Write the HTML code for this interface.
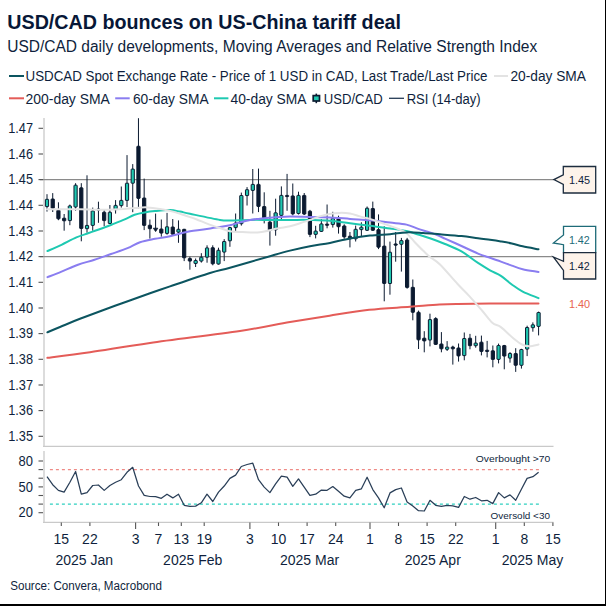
<!DOCTYPE html>
<html><head><meta charset="utf-8"><style>
html,body{margin:0;padding:0;background:#fff;}
body{width:606px;height:606px;overflow:hidden;position:relative;}
svg{position:absolute;left:0;top:0;}
text{font-family:"Liberation Sans",sans-serif;fill:#0f1f3d;}
.ti{font-size:19.5px;font-weight:bold;fill:#071737;}
.st{font-size:15.6px;}
.lg{font-size:14px;}
.ax{font-size:14px;}
.sm{font-size:9.5px;}
.lb{font-size:11.5px;}
.so{font-size:12px;}
</style></head><body>
<svg width="606" height="606" viewBox="0 0 606 606">
<rect x="0" y="0" width="606" height="606" fill="#fff"/>
<line x1="44" y1="118" x2="44" y2="446.5" stroke="#c9c9c9" stroke-width="1.3"/>
<line x1="43" y1="446.4" x2="553.5" y2="446.4" stroke="#c9c9c9" stroke-width="1.3"/>
<line x1="44" y1="451" x2="44" y2="522.5" stroke="#c9c9c9" stroke-width="1.3"/>
<line x1="43" y1="522.4" x2="553.5" y2="522.4" stroke="#c9c9c9" stroke-width="1.3"/>
<line x1="40" y1="179.6" x2="554" y2="179.6" stroke="#8a8a8a" stroke-width="1.2"/>
<line x1="40" y1="256.6" x2="553" y2="256.6" stroke="#8a8a8a" stroke-width="1.2"/>
<line x1="38.5" y1="128.3" x2="43" y2="128.3" stroke="#555" stroke-width="1.1"/>
<text x="8.2" y="133.1" class="ax" textLength="24.8" lengthAdjust="spacingAndGlyphs">1.47</text>
<line x1="38.5" y1="154.0" x2="43" y2="154.0" stroke="#555" stroke-width="1.1"/>
<text x="8.2" y="158.8" class="ax" textLength="24.8" lengthAdjust="spacingAndGlyphs">1.46</text>
<line x1="38.5" y1="179.6" x2="43" y2="179.6" stroke="#555" stroke-width="1.1"/>
<text x="8.2" y="184.4" class="ax" textLength="24.8" lengthAdjust="spacingAndGlyphs">1.45</text>
<line x1="38.5" y1="205.3" x2="43" y2="205.3" stroke="#555" stroke-width="1.1"/>
<text x="8.2" y="210.1" class="ax" textLength="24.8" lengthAdjust="spacingAndGlyphs">1.44</text>
<line x1="38.5" y1="231.0" x2="43" y2="231.0" stroke="#555" stroke-width="1.1"/>
<text x="8.2" y="235.8" class="ax" textLength="24.8" lengthAdjust="spacingAndGlyphs">1.43</text>
<line x1="38.5" y1="256.6" x2="43" y2="256.6" stroke="#555" stroke-width="1.1"/>
<text x="8.2" y="261.4" class="ax" textLength="24.8" lengthAdjust="spacingAndGlyphs">1.42</text>
<line x1="38.5" y1="282.3" x2="43" y2="282.3" stroke="#555" stroke-width="1.1"/>
<text x="8.2" y="287.1" class="ax" textLength="24.8" lengthAdjust="spacingAndGlyphs">1.41</text>
<line x1="38.5" y1="308.0" x2="43" y2="308.0" stroke="#555" stroke-width="1.1"/>
<text x="8.2" y="312.8" class="ax" textLength="24.8" lengthAdjust="spacingAndGlyphs">1.40</text>
<line x1="38.5" y1="333.6" x2="43" y2="333.6" stroke="#555" stroke-width="1.1"/>
<text x="8.2" y="338.4" class="ax" textLength="24.8" lengthAdjust="spacingAndGlyphs">1.39</text>
<line x1="38.5" y1="359.3" x2="43" y2="359.3" stroke="#555" stroke-width="1.1"/>
<text x="8.2" y="364.1" class="ax" textLength="24.8" lengthAdjust="spacingAndGlyphs">1.38</text>
<line x1="38.5" y1="385.0" x2="43" y2="385.0" stroke="#555" stroke-width="1.1"/>
<text x="8.2" y="389.8" class="ax" textLength="24.8" lengthAdjust="spacingAndGlyphs">1.37</text>
<line x1="38.5" y1="410.6" x2="43" y2="410.6" stroke="#555" stroke-width="1.1"/>
<text x="8.2" y="415.4" class="ax" textLength="24.8" lengthAdjust="spacingAndGlyphs">1.36</text>
<line x1="38.5" y1="436.3" x2="43" y2="436.3" stroke="#555" stroke-width="1.1"/>
<text x="8.2" y="441.1" class="ax" textLength="24.8" lengthAdjust="spacingAndGlyphs">1.35</text>
<line x1="38.5" y1="461.0" x2="43" y2="461.0" stroke="#555" stroke-width="1.1"/>
<text x="18.6" y="465.7" class="ax" textLength="14.4" lengthAdjust="spacingAndGlyphs">80</text>
<line x1="38.5" y1="469.6" x2="43" y2="469.6" stroke="#555" stroke-width="1.1"/>
<line x1="38.5" y1="478.2" x2="43" y2="478.2" stroke="#555" stroke-width="1.1"/>
<line x1="38.5" y1="486.9" x2="43" y2="486.9" stroke="#555" stroke-width="1.1"/>
<text x="18.6" y="491.6" class="ax" textLength="14.4" lengthAdjust="spacingAndGlyphs">50</text>
<line x1="38.5" y1="495.5" x2="43" y2="495.5" stroke="#555" stroke-width="1.1"/>
<line x1="38.5" y1="504.1" x2="43" y2="504.1" stroke="#555" stroke-width="1.1"/>
<line x1="38.5" y1="512.7" x2="43" y2="512.7" stroke="#555" stroke-width="1.1"/>
<text x="18.6" y="517.4" class="ax" textLength="14.4" lengthAdjust="spacingAndGlyphs">20</text>
<line x1="61.3" y1="522.5" x2="61.3" y2="526.0" stroke="#555" stroke-width="1.1"/>
<text x="61.3" y="543.6" text-anchor="middle" class="ax">15</text>
<line x1="89.9" y1="522.5" x2="89.9" y2="526.0" stroke="#555" stroke-width="1.1"/>
<text x="89.9" y="543.6" text-anchor="middle" class="ax">22</text>
<line x1="135.6" y1="522.5" x2="135.6" y2="529.0" stroke="#555" stroke-width="1.1"/>
<text x="135.6" y="543.6" text-anchor="middle" class="ax">3</text>
<line x1="158.5" y1="522.5" x2="158.5" y2="526.0" stroke="#555" stroke-width="1.1"/>
<text x="158.5" y="543.6" text-anchor="middle" class="ax">7</text>
<line x1="181.3" y1="522.5" x2="181.3" y2="526.0" stroke="#555" stroke-width="1.1"/>
<text x="181.3" y="543.6" text-anchor="middle" class="ax">13</text>
<line x1="204.2" y1="522.5" x2="204.2" y2="526.0" stroke="#555" stroke-width="1.1"/>
<text x="204.2" y="543.6" text-anchor="middle" class="ax">19</text>
<line x1="249.9" y1="522.5" x2="249.9" y2="529.0" stroke="#555" stroke-width="1.1"/>
<text x="249.9" y="543.6" text-anchor="middle" class="ax">3</text>
<line x1="278.5" y1="522.5" x2="278.5" y2="526.0" stroke="#555" stroke-width="1.1"/>
<text x="278.5" y="543.6" text-anchor="middle" class="ax">10</text>
<line x1="307.1" y1="522.5" x2="307.1" y2="526.0" stroke="#555" stroke-width="1.1"/>
<text x="307.1" y="543.6" text-anchor="middle" class="ax">17</text>
<line x1="335.7" y1="522.5" x2="335.7" y2="526.0" stroke="#555" stroke-width="1.1"/>
<text x="335.7" y="543.6" text-anchor="middle" class="ax">24</text>
<line x1="370.0" y1="522.5" x2="370.0" y2="529.0" stroke="#555" stroke-width="1.1"/>
<text x="370.0" y="543.6" text-anchor="middle" class="ax">1</text>
<line x1="398.5" y1="522.5" x2="398.5" y2="526.0" stroke="#555" stroke-width="1.1"/>
<text x="398.5" y="543.6" text-anchor="middle" class="ax">8</text>
<line x1="427.1" y1="522.5" x2="427.1" y2="526.0" stroke="#555" stroke-width="1.1"/>
<text x="427.1" y="543.6" text-anchor="middle" class="ax">15</text>
<line x1="455.7" y1="522.5" x2="455.7" y2="526.0" stroke="#555" stroke-width="1.1"/>
<text x="455.7" y="543.6" text-anchor="middle" class="ax">22</text>
<line x1="495.7" y1="522.5" x2="495.7" y2="529.0" stroke="#555" stroke-width="1.1"/>
<text x="495.7" y="543.6" text-anchor="middle" class="ax">1</text>
<line x1="524.3" y1="522.5" x2="524.3" y2="526.0" stroke="#555" stroke-width="1.1"/>
<text x="524.3" y="543.6" text-anchor="middle" class="ax">8</text>
<line x1="552.9" y1="522.5" x2="552.9" y2="526.0" stroke="#555" stroke-width="1.1"/>
<text x="552.9" y="543.6" text-anchor="middle" class="ax">15</text>
<text x="84.3" y="564.9" text-anchor="middle" class="ax">2025 Jan</text>
<text x="192.7" y="564.9" text-anchor="middle" class="ax">2025 Feb</text>
<text x="309.6" y="564.9" text-anchor="middle" class="ax">2025 Mar</text>
<text x="432.8" y="564.9" text-anchor="middle" class="ax">2025 Apr</text>
<text x="532.5" y="564.9" text-anchor="middle" class="ax">2025 May</text>
<line x1="47.00" y1="194.2" x2="47.00" y2="211.6" stroke="#0b1a30" stroke-width="1.0"/>
<rect x="45.40" y="199.3" width="3.2" height="7.3" fill="#1fc8b0" stroke="#0b1a30" stroke-width="1" rx="0.4"/>
<line x1="52.72" y1="193.1" x2="52.72" y2="212.0" stroke="#0b1a30" stroke-width="1.0"/>
<rect x="51.12" y="199.0" width="3.2" height="9.3" fill="#0b1a30" stroke="#0b1a30" stroke-width="1" rx="0.4"/>
<line x1="58.43" y1="202.3" x2="58.43" y2="220.2" stroke="#0b1a30" stroke-width="1.0"/>
<rect x="56.83" y="210.3" width="3.2" height="8.5" fill="#0b1a30" stroke="#0b1a30" stroke-width="1" rx="0.4"/>
<line x1="64.15" y1="214.0" x2="64.15" y2="230.7" stroke="#0b1a30" stroke-width="1.0"/>
<rect x="62.55" y="218.2" width="3.2" height="2.6" fill="#0b1a30" stroke="#0b1a30" stroke-width="1" rx="0.4"/>
<line x1="69.86" y1="204.6" x2="69.86" y2="225.2" stroke="#0b1a30" stroke-width="1.0"/>
<rect x="68.26" y="205.9" width="3.2" height="14.7" fill="#1fc8b0" stroke="#0b1a30" stroke-width="1" rx="0.4"/>
<line x1="75.58" y1="183.2" x2="75.58" y2="210.7" stroke="#0b1a30" stroke-width="1.0"/>
<rect x="73.98" y="185.2" width="3.2" height="21.8" fill="#1fc8b0" stroke="#0b1a30" stroke-width="1" rx="0.4"/>
<line x1="81.30" y1="183.2" x2="81.30" y2="241.3" stroke="#0b1a30" stroke-width="1.0"/>
<rect x="79.70" y="187.8" width="3.2" height="40.7" fill="#0b1a30" stroke="#0b1a30" stroke-width="1" rx="0.4"/>
<line x1="87.01" y1="175.3" x2="87.01" y2="232.7" stroke="#0b1a30" stroke-width="1.0"/>
<rect x="85.41" y="225.4" width="3.2" height="3.3" fill="#1fc8b0" stroke="#0b1a30" stroke-width="1" rx="0.4"/>
<line x1="92.73" y1="207.6" x2="92.73" y2="230.7" stroke="#0b1a30" stroke-width="1.0"/>
<rect x="91.13" y="210.9" width="3.2" height="14.5" fill="#1fc8b0" stroke="#0b1a30" stroke-width="1" rx="0.4"/>
<line x1="98.44" y1="201.7" x2="98.44" y2="222.8" stroke="#0b1a30" stroke-width="1.0"/>
<rect x="96.84" y="209.0" width="3.2" height="1.2" fill="#0b1a30" stroke="#0b1a30" stroke-width="1" rx="0.4"/>
<line x1="104.16" y1="209.3" x2="104.16" y2="226.1" stroke="#0b1a30" stroke-width="1.0"/>
<rect x="102.56" y="212.2" width="3.2" height="8.4" fill="#0b1a30" stroke="#0b1a30" stroke-width="1" rx="0.4"/>
<line x1="109.88" y1="205.0" x2="109.88" y2="223.5" stroke="#0b1a30" stroke-width="1.0"/>
<rect x="108.28" y="212.2" width="3.2" height="11.3" fill="#1fc8b0" stroke="#0b1a30" stroke-width="1" rx="0.4"/>
<line x1="115.59" y1="200.1" x2="115.59" y2="213.6" stroke="#0b1a30" stroke-width="1.0"/>
<rect x="113.99" y="205.4" width="3.2" height="4.2" fill="#1fc8b0" stroke="#0b1a30" stroke-width="1" rx="0.4"/>
<line x1="121.31" y1="186.5" x2="121.31" y2="207.6" stroke="#0b1a30" stroke-width="1.0"/>
<rect x="119.71" y="200.4" width="3.2" height="5.2" fill="#1fc8b0" stroke="#0b1a30" stroke-width="1" rx="0.4"/>
<line x1="127.02" y1="155.1" x2="127.02" y2="207.0" stroke="#0b1a30" stroke-width="1.0"/>
<rect x="125.42" y="183.2" width="3.2" height="17.2" fill="#1fc8b0" stroke="#0b1a30" stroke-width="1" rx="0.4"/>
<line x1="132.74" y1="164.1" x2="132.74" y2="212.2" stroke="#0b1a30" stroke-width="1.0"/>
<rect x="131.14" y="169.1" width="3.2" height="14.1" fill="#1fc8b0" stroke="#0b1a30" stroke-width="1" rx="0.4"/>
<line x1="138.46" y1="118.2" x2="138.46" y2="208.3" stroke="#0b1a30" stroke-width="1.0"/>
<rect x="136.86" y="146.3" width="3.2" height="52.1" fill="#0b1a30" stroke="#0b1a30" stroke-width="1" rx="0.4"/>
<line x1="144.17" y1="178.6" x2="144.17" y2="230.1" stroke="#0b1a30" stroke-width="1.0"/>
<rect x="142.57" y="198.0" width="3.2" height="27.4" fill="#0b1a30" stroke="#0b1a30" stroke-width="1" rx="0.4"/>
<line x1="149.89" y1="219.5" x2="149.89" y2="238.6" stroke="#0b1a30" stroke-width="1.0"/>
<rect x="148.29" y="225.2" width="3.2" height="3.5" fill="#0b1a30" stroke="#0b1a30" stroke-width="1" rx="0.4"/>
<line x1="155.60" y1="213.6" x2="155.60" y2="230.7" stroke="#0b1a30" stroke-width="1.0"/>
<path d="M153.40,228.2 L157.80,228.2 L155.60,231.6 Z" fill="#0b1a30" stroke="#0b1a30" stroke-width="0.8"/>
<line x1="161.32" y1="219.5" x2="161.32" y2="236.7" stroke="#0b1a30" stroke-width="1.0"/>
<rect x="159.72" y="229.0" width="3.2" height="4.1" fill="#0b1a30" stroke="#0b1a30" stroke-width="1" rx="0.4"/>
<line x1="167.04" y1="212.9" x2="167.04" y2="234.7" stroke="#0b1a30" stroke-width="1.0"/>
<rect x="165.44" y="226.8" width="3.2" height="6.6" fill="#1fc8b0" stroke="#0b1a30" stroke-width="1" rx="0.4"/>
<line x1="172.75" y1="219.0" x2="172.75" y2="234.8" stroke="#0b1a30" stroke-width="1.0"/>
<rect x="171.15" y="227.0" width="3.2" height="7.2" fill="#0b1a30" stroke="#0b1a30" stroke-width="1" rx="0.4"/>
<line x1="178.47" y1="220.4" x2="178.47" y2="242.8" stroke="#0b1a30" stroke-width="1.0"/>
<rect x="176.87" y="229.3" width="3.2" height="2.9" fill="#1fc8b0" stroke="#0b1a30" stroke-width="1" rx="0.4"/>
<line x1="184.18" y1="228.9" x2="184.18" y2="261.1" stroke="#0b1a30" stroke-width="1.0"/>
<rect x="182.58" y="229.3" width="3.2" height="28.5" fill="#0b1a30" stroke="#0b1a30" stroke-width="1" rx="0.4"/>
<line x1="189.90" y1="256.7" x2="189.90" y2="269.7" stroke="#0b1a30" stroke-width="1.0"/>
<rect x="188.30" y="258.5" width="3.2" height="2.6" fill="#0b1a30" stroke="#0b1a30" stroke-width="1" rx="0.4"/>
<line x1="195.62" y1="258.5" x2="195.62" y2="267.0" stroke="#0b1a30" stroke-width="1.0"/>
<rect x="194.02" y="260.5" width="3.2" height="3.0" fill="#1fc8b0" stroke="#0b1a30" stroke-width="1" rx="0.4"/>
<line x1="201.33" y1="253.2" x2="201.33" y2="262.6" stroke="#0b1a30" stroke-width="1.0"/>
<rect x="199.73" y="257.2" width="3.2" height="3.9" fill="#1fc8b0" stroke="#0b1a30" stroke-width="1" rx="0.4"/>
<line x1="207.05" y1="245.3" x2="207.05" y2="262.7" stroke="#0b1a30" stroke-width="1.0"/>
<rect x="205.45" y="247.9" width="3.2" height="9.3" fill="#1fc8b0" stroke="#0b1a30" stroke-width="1" rx="0.4"/>
<line x1="212.76" y1="245.3" x2="212.76" y2="265.3" stroke="#0b1a30" stroke-width="1.0"/>
<rect x="211.16" y="247.7" width="3.2" height="16.1" fill="#0b1a30" stroke="#0b1a30" stroke-width="1" rx="0.4"/>
<line x1="218.48" y1="247.7" x2="218.48" y2="264.6" stroke="#0b1a30" stroke-width="1.0"/>
<rect x="216.88" y="250.3" width="3.2" height="13.7" fill="#1fc8b0" stroke="#0b1a30" stroke-width="1" rx="0.4"/>
<line x1="224.20" y1="239.1" x2="224.20" y2="261.1" stroke="#0b1a30" stroke-width="1.0"/>
<rect x="222.60" y="241.5" width="3.2" height="10.6" fill="#1fc8b0" stroke="#0b1a30" stroke-width="1" rx="0.4"/>
<line x1="229.91" y1="227.0" x2="229.91" y2="246.8" stroke="#0b1a30" stroke-width="1.0"/>
<rect x="228.31" y="227.6" width="3.2" height="13.2" fill="#1fc8b0" stroke="#0b1a30" stroke-width="1" rx="0.4"/>
<line x1="235.63" y1="213.5" x2="235.63" y2="230.9" stroke="#0b1a30" stroke-width="1.0"/>
<rect x="234.03" y="223.0" width="3.2" height="4.6" fill="#1fc8b0" stroke="#0b1a30" stroke-width="1" rx="0.4"/>
<line x1="241.34" y1="192.6" x2="241.34" y2="225.6" stroke="#0b1a30" stroke-width="1.0"/>
<rect x="239.74" y="195.5" width="3.2" height="28.2" fill="#1fc8b0" stroke="#0b1a30" stroke-width="1" rx="0.4"/>
<line x1="247.06" y1="187.1" x2="247.06" y2="205.5" stroke="#0b1a30" stroke-width="1.0"/>
<rect x="245.46" y="189.7" width="3.2" height="5.9" fill="#1fc8b0" stroke="#0b1a30" stroke-width="1" rx="0.4"/>
<line x1="252.78" y1="169.0" x2="252.78" y2="213.5" stroke="#0b1a30" stroke-width="1.0"/>
<rect x="251.18" y="184.4" width="3.2" height="6.0" fill="#1fc8b0" stroke="#0b1a30" stroke-width="1" rx="0.4"/>
<line x1="258.49" y1="168.6" x2="258.49" y2="212.1" stroke="#0b1a30" stroke-width="1.0"/>
<rect x="256.89" y="184.4" width="3.2" height="22.1" fill="#0b1a30" stroke="#0b1a30" stroke-width="1" rx="0.4"/>
<line x1="264.21" y1="192.3" x2="264.21" y2="223.4" stroke="#0b1a30" stroke-width="1.0"/>
<rect x="262.61" y="206.5" width="3.2" height="11.6" fill="#0b1a30" stroke="#0b1a30" stroke-width="1" rx="0.4"/>
<line x1="269.92" y1="210.8" x2="269.92" y2="245.6" stroke="#0b1a30" stroke-width="1.0"/>
<rect x="268.32" y="222.0" width="3.2" height="8.5" fill="#0b1a30" stroke="#0b1a30" stroke-width="1" rx="0.4"/>
<line x1="275.64" y1="198.7" x2="275.64" y2="235.7" stroke="#0b1a30" stroke-width="1.0"/>
<rect x="274.04" y="212.8" width="3.2" height="17.0" fill="#1fc8b0" stroke="#0b1a30" stroke-width="1" rx="0.4"/>
<line x1="281.36" y1="186.4" x2="281.36" y2="219.4" stroke="#0b1a30" stroke-width="1.0"/>
<rect x="279.76" y="195.4" width="3.2" height="20.0" fill="#1fc8b0" stroke="#0b1a30" stroke-width="1" rx="0.4"/>
<line x1="287.07" y1="173.9" x2="287.07" y2="210.8" stroke="#0b1a30" stroke-width="1.0"/>
<rect x="285.47" y="195.4" width="3.2" height="1.2" fill="#0b1a30" stroke="#0b1a30" stroke-width="1" rx="0.4"/>
<line x1="292.79" y1="183.5" x2="292.79" y2="215.4" stroke="#0b1a30" stroke-width="1.0"/>
<rect x="291.19" y="195.9" width="3.2" height="18.0" fill="#0b1a30" stroke="#0b1a30" stroke-width="1" rx="0.4"/>
<line x1="298.50" y1="191.7" x2="298.50" y2="214.5" stroke="#0b1a30" stroke-width="1.0"/>
<rect x="296.90" y="195.4" width="3.2" height="18.1" fill="#1fc8b0" stroke="#0b1a30" stroke-width="1" rx="0.4"/>
<line x1="304.22" y1="193.0" x2="304.22" y2="215.0" stroke="#0b1a30" stroke-width="1.0"/>
<rect x="302.62" y="195.4" width="3.2" height="18.7" fill="#0b1a30" stroke="#0b1a30" stroke-width="1" rx="0.4"/>
<line x1="309.94" y1="209.9" x2="309.94" y2="237.1" stroke="#0b1a30" stroke-width="1.0"/>
<rect x="308.34" y="211.2" width="3.2" height="23.2" fill="#0b1a30" stroke="#0b1a30" stroke-width="1" rx="0.4"/>
<line x1="315.65" y1="225.8" x2="315.65" y2="238.4" stroke="#0b1a30" stroke-width="1.0"/>
<rect x="314.05" y="231.1" width="3.2" height="3.3" fill="#1fc8b0" stroke="#0b1a30" stroke-width="1" rx="0.4"/>
<line x1="321.37" y1="219.2" x2="321.37" y2="232.0" stroke="#0b1a30" stroke-width="1.0"/>
<rect x="319.77" y="223.9" width="3.2" height="7.5" fill="#1fc8b0" stroke="#0b1a30" stroke-width="1" rx="0.4"/>
<line x1="327.08" y1="204.5" x2="327.08" y2="228.3" stroke="#0b1a30" stroke-width="1.0"/>
<rect x="325.48" y="224.1" width="3.2" height="1.2" fill="#0b1a30" stroke="#0b1a30" stroke-width="1" rx="0.4"/>
<line x1="332.80" y1="211.8" x2="332.80" y2="227.6" stroke="#0b1a30" stroke-width="1.0"/>
<rect x="331.20" y="218.4" width="3.2" height="6.2" fill="#1fc8b0" stroke="#0b1a30" stroke-width="1" rx="0.4"/>
<line x1="338.52" y1="215.7" x2="338.52" y2="233.6" stroke="#0b1a30" stroke-width="1.0"/>
<rect x="336.92" y="219.0" width="3.2" height="7.7" fill="#0b1a30" stroke="#0b1a30" stroke-width="1" rx="0.4"/>
<line x1="344.23" y1="224.3" x2="344.23" y2="238.8" stroke="#0b1a30" stroke-width="1.0"/>
<rect x="342.63" y="225.9" width="3.2" height="11.0" fill="#0b1a30" stroke="#0b1a30" stroke-width="1" rx="0.4"/>
<line x1="349.95" y1="232.0" x2="349.95" y2="247.4" stroke="#0b1a30" stroke-width="1.0"/>
<rect x="348.35" y="236.2" width="3.2" height="2.6" fill="#0b1a30" stroke="#0b1a30" stroke-width="1" rx="0.4"/>
<line x1="355.66" y1="225.6" x2="355.66" y2="241.5" stroke="#0b1a30" stroke-width="1.0"/>
<rect x="354.06" y="229.3" width="3.2" height="9.5" fill="#1fc8b0" stroke="#0b1a30" stroke-width="1" rx="0.4"/>
<line x1="361.38" y1="222.3" x2="361.38" y2="236.2" stroke="#0b1a30" stroke-width="1.0"/>
<rect x="359.78" y="227.2" width="3.2" height="2.4" fill="#1fc8b0" stroke="#0b1a30" stroke-width="1" rx="0.4"/>
<line x1="367.10" y1="206.5" x2="367.10" y2="230.9" stroke="#0b1a30" stroke-width="1.0"/>
<rect x="365.50" y="208.2" width="3.2" height="22.1" fill="#1fc8b0" stroke="#0b1a30" stroke-width="1" rx="0.4"/>
<line x1="372.81" y1="201.6" x2="372.81" y2="230.8" stroke="#0b1a30" stroke-width="1.0"/>
<rect x="371.21" y="208.5" width="3.2" height="21.8" fill="#0b1a30" stroke="#0b1a30" stroke-width="1" rx="0.4"/>
<line x1="378.53" y1="214.4" x2="378.53" y2="249.1" stroke="#0b1a30" stroke-width="1.0"/>
<rect x="376.93" y="229.6" width="3.2" height="17.6" fill="#0b1a30" stroke="#0b1a30" stroke-width="1" rx="0.4"/>
<line x1="384.24" y1="226.3" x2="384.24" y2="301.3" stroke="#0b1a30" stroke-width="1.0"/>
<rect x="382.64" y="246.1" width="3.2" height="37.4" fill="#0b1a30" stroke="#0b1a30" stroke-width="1" rx="0.4"/>
<line x1="389.96" y1="241.6" x2="389.96" y2="294.7" stroke="#0b1a30" stroke-width="1.0"/>
<rect x="388.36" y="252.2" width="3.2" height="31.3" fill="#1fc8b0" stroke="#0b1a30" stroke-width="1" rx="0.4"/>
<line x1="395.68" y1="232.0" x2="395.68" y2="261.7" stroke="#0b1a30" stroke-width="1.0"/>
<rect x="394.08" y="243.9" width="3.2" height="1.3" fill="#0b1a30" stroke="#0b1a30" stroke-width="1" rx="0.4"/>
<line x1="401.39" y1="237.9" x2="401.39" y2="271.6" stroke="#0b1a30" stroke-width="1.0"/>
<rect x="399.79" y="240.6" width="3.2" height="3.7" fill="#1fc8b0" stroke="#0b1a30" stroke-width="1" rx="0.4"/>
<line x1="407.11" y1="237.9" x2="407.11" y2="288.7" stroke="#0b1a30" stroke-width="1.0"/>
<rect x="405.51" y="239.9" width="3.2" height="47.5" fill="#0b1a30" stroke="#0b1a30" stroke-width="1" rx="0.4"/>
<line x1="412.82" y1="279.5" x2="412.82" y2="320.3" stroke="#0b1a30" stroke-width="1.0"/>
<rect x="411.22" y="287.3" width="3.2" height="25.0" fill="#0b1a30" stroke="#0b1a30" stroke-width="1" rx="0.4"/>
<line x1="418.54" y1="310.6" x2="418.54" y2="349.0" stroke="#0b1a30" stroke-width="1.0"/>
<rect x="416.94" y="312.3" width="3.2" height="27.5" fill="#0b1a30" stroke="#0b1a30" stroke-width="1" rx="0.4"/>
<line x1="424.26" y1="331.2" x2="424.26" y2="352.3" stroke="#0b1a30" stroke-width="1.0"/>
<rect x="422.66" y="338.2" width="3.2" height="2.7" fill="#0b1a30" stroke="#0b1a30" stroke-width="1" rx="0.4"/>
<line x1="429.97" y1="313.7" x2="429.97" y2="346.4" stroke="#0b1a30" stroke-width="1.0"/>
<rect x="428.37" y="319.6" width="3.2" height="20.4" fill="#1fc8b0" stroke="#0b1a30" stroke-width="1" rx="0.4"/>
<line x1="435.69" y1="317.2" x2="435.69" y2="344.8" stroke="#0b1a30" stroke-width="1.0"/>
<rect x="434.09" y="318.5" width="3.2" height="25.9" fill="#0b1a30" stroke="#0b1a30" stroke-width="1" rx="0.4"/>
<line x1="441.40" y1="332.1" x2="441.40" y2="352.3" stroke="#0b1a30" stroke-width="1.0"/>
<rect x="439.80" y="344.0" width="3.2" height="4.8" fill="#0b1a30" stroke="#0b1a30" stroke-width="1" rx="0.4"/>
<line x1="447.12" y1="341.1" x2="447.12" y2="351.0" stroke="#0b1a30" stroke-width="1.0"/>
<rect x="445.52" y="347.1" width="3.2" height="2.2" fill="#1fc8b0" stroke="#0b1a30" stroke-width="1" rx="0.4"/>
<line x1="452.84" y1="345.7" x2="452.84" y2="364.6" stroke="#0b1a30" stroke-width="1.0"/>
<rect x="451.24" y="347.0" width="3.2" height="1.8" fill="#0b1a30" stroke="#0b1a30" stroke-width="1" rx="0.4"/>
<line x1="458.55" y1="343.5" x2="458.55" y2="361.6" stroke="#0b1a30" stroke-width="1.0"/>
<rect x="456.95" y="348.0" width="3.2" height="7.9" fill="#0b1a30" stroke="#0b1a30" stroke-width="1" rx="0.4"/>
<line x1="464.27" y1="332.5" x2="464.27" y2="360.3" stroke="#0b1a30" stroke-width="1.0"/>
<rect x="462.67" y="338.5" width="3.2" height="17.1" fill="#1fc8b0" stroke="#0b1a30" stroke-width="1" rx="0.4"/>
<line x1="469.98" y1="333.9" x2="469.98" y2="349.3" stroke="#0b1a30" stroke-width="1.0"/>
<rect x="468.38" y="338.2" width="3.2" height="7.5" fill="#0b1a30" stroke="#0b1a30" stroke-width="1" rx="0.4"/>
<line x1="475.70" y1="335.8" x2="475.70" y2="347.7" stroke="#0b1a30" stroke-width="1.0"/>
<rect x="474.10" y="343.1" width="3.2" height="2.6" fill="#1fc8b0" stroke="#0b1a30" stroke-width="1" rx="0.4"/>
<line x1="481.42" y1="335.6" x2="481.42" y2="355.4" stroke="#0b1a30" stroke-width="1.0"/>
<rect x="479.82" y="342.2" width="3.2" height="9.3" fill="#0b1a30" stroke="#0b1a30" stroke-width="1" rx="0.4"/>
<line x1="487.13" y1="340.9" x2="487.13" y2="357.4" stroke="#0b1a30" stroke-width="1.0"/>
<rect x="485.53" y="350.2" width="3.2" height="1.3" fill="#0b1a30" stroke="#0b1a30" stroke-width="1" rx="0.4"/>
<line x1="492.85" y1="345.5" x2="492.85" y2="367.3" stroke="#0b1a30" stroke-width="1.0"/>
<rect x="491.25" y="350.8" width="3.2" height="8.6" fill="#0b1a30" stroke="#0b1a30" stroke-width="1" rx="0.4"/>
<line x1="498.56" y1="343.6" x2="498.56" y2="363.4" stroke="#0b1a30" stroke-width="1.0"/>
<rect x="496.96" y="345.5" width="3.2" height="13.9" fill="#1fc8b0" stroke="#0b1a30" stroke-width="1" rx="0.4"/>
<line x1="504.28" y1="344.9" x2="504.28" y2="369.3" stroke="#0b1a30" stroke-width="1.0"/>
<rect x="502.68" y="345.5" width="3.2" height="10.6" fill="#0b1a30" stroke="#0b1a30" stroke-width="1" rx="0.4"/>
<line x1="510.00" y1="352.1" x2="510.00" y2="362.7" stroke="#0b1a30" stroke-width="1.0"/>
<rect x="508.40" y="353.5" width="3.2" height="4.6" fill="#1fc8b0" stroke="#0b1a30" stroke-width="1" rx="0.4"/>
<line x1="515.71" y1="348.2" x2="515.71" y2="371.9" stroke="#0b1a30" stroke-width="1.0"/>
<rect x="514.11" y="353.5" width="3.2" height="11.8" fill="#0b1a30" stroke="#0b1a30" stroke-width="1" rx="0.4"/>
<line x1="521.43" y1="348.8" x2="521.43" y2="368.6" stroke="#0b1a30" stroke-width="1.0"/>
<rect x="519.83" y="349.5" width="3.2" height="15.8" fill="#1fc8b0" stroke="#0b1a30" stroke-width="1" rx="0.4"/>
<line x1="527.14" y1="325.7" x2="527.14" y2="356.1" stroke="#0b1a30" stroke-width="1.0"/>
<rect x="525.54" y="327.5" width="3.2" height="21.6" fill="#1fc8b0" stroke="#0b1a30" stroke-width="1" rx="0.4"/>
<line x1="532.86" y1="322.4" x2="532.86" y2="331.7" stroke="#0b1a30" stroke-width="1.0"/>
<rect x="531.26" y="324.8" width="3.2" height="2.9" fill="#1fc8b0" stroke="#0b1a30" stroke-width="1" rx="0.4"/>
<line x1="538.58" y1="311.6" x2="538.58" y2="335.4" stroke="#0b1a30" stroke-width="1.0"/>
<rect x="536.98" y="312.5" width="3.2" height="13.9" fill="#1fc8b0" stroke="#0b1a30" stroke-width="1" rx="0.4"/>
<path d="M47.5,251.0 C49.8,250.0 56.7,247.1 61.5,244.8 C66.3,242.5 72.0,239.3 76.4,237.4 C80.8,235.5 84.9,234.4 88.0,233.3 C91.1,232.2 92.2,231.8 95.0,230.8 C97.8,229.8 101.6,228.5 104.9,227.3 C108.2,226.1 111.5,224.7 114.8,223.4 C118.1,222.1 121.4,220.8 124.7,219.4 C128.0,218.0 131.3,216.0 134.6,214.8 C137.9,213.7 141.1,213.1 144.5,212.5 C147.9,211.9 150.8,211.5 155.0,211.1 C159.2,210.7 165.8,210.0 170.0,210.1 C174.2,210.2 176.7,211.0 180.0,211.6 C183.3,212.2 183.3,212.4 190.0,213.8 C196.7,215.2 213.3,218.8 220.0,219.9 C226.7,221.0 225.0,220.5 230.0,220.5 C235.0,220.5 243.3,220.0 250.0,219.9 C256.7,219.8 263.3,219.9 270.0,219.9 C276.7,219.9 283.3,219.9 290.0,219.9 C296.7,219.9 303.3,219.8 310.0,219.9 C316.7,220.1 323.3,220.2 330.0,220.8 C336.7,221.4 343.3,222.5 350.0,223.3 C356.7,224.1 363.3,224.9 370.0,225.8 C376.7,226.7 383.9,227.6 390.0,228.5 C396.1,229.4 401.8,230.1 406.5,231.1 C411.2,232.1 414.1,233.2 418.2,234.5 C422.3,235.8 426.9,237.1 431.4,238.7 C435.9,240.3 440.0,241.9 445.0,244.0 C450.0,246.1 456.0,248.2 461.5,251.4 C467.0,254.6 473.2,259.8 478.0,262.9 C482.8,266.0 486.2,268.1 490.0,270.3 C493.8,272.5 497.3,273.4 500.9,275.8 C504.5,278.2 508.2,281.9 511.8,284.5 C515.4,287.1 518.2,289.3 522.7,291.6 C527.2,293.9 535.9,297.0 538.5,298.1" fill="none" stroke="#1ec9b1" stroke-width="2.0" stroke-linecap="round" stroke-linejoin="round"/>
<path d="M47.5,277.1 C49.8,276.2 56.4,273.7 61.5,271.6 C66.6,269.5 72.5,266.7 78.0,264.7 C83.5,262.7 89.0,261.6 94.5,259.8 C100.0,258.0 105.5,255.9 111.0,254.0 C116.5,252.1 122.7,250.2 127.5,248.2 C132.3,246.2 135.4,243.8 140.0,242.2 C144.6,240.6 150.0,239.8 155.0,238.8 C160.0,237.8 164.2,237.4 170.0,236.2 C175.8,234.9 181.7,232.8 190.0,231.3 C198.3,229.8 213.3,228.1 220.0,227.1 C226.7,226.1 226.7,226.1 230.0,225.3 C233.3,224.5 236.7,223.3 240.0,222.4 C243.3,221.5 246.7,220.5 250.0,219.9 C253.3,219.3 256.7,219.1 260.0,218.7 C263.3,218.3 266.7,218.0 270.0,217.7 C273.3,217.4 276.7,217.1 280.0,216.9 C283.3,216.7 285.0,216.6 290.0,216.6 C295.0,216.6 303.3,216.8 310.0,216.9 C316.7,217.0 323.3,217.1 330.0,217.4 C336.7,217.7 343.3,218.4 350.0,218.9 C356.7,219.4 363.3,219.7 370.0,220.3 C376.7,220.9 383.9,221.9 390.0,222.6 C396.1,223.3 401.8,223.5 406.5,224.6 C411.2,225.7 414.1,227.5 418.2,228.9 C422.3,230.3 426.9,231.3 431.4,232.9 C435.9,234.5 440.0,236.4 445.0,238.6 C450.0,240.8 456.0,243.5 461.5,246.0 C467.0,248.5 473.2,251.6 478.0,253.6 C482.8,255.6 486.2,256.5 490.0,257.8 C493.8,259.1 497.3,260.3 500.9,261.6 C504.5,262.9 508.2,264.3 511.8,265.6 C515.4,266.9 518.2,268.1 522.7,269.2 C527.2,270.3 535.9,271.5 538.5,272.0" fill="none" stroke="#8a7df0" stroke-width="2.0" stroke-linecap="round" stroke-linejoin="round"/>
<path d="M47.4,357.8 C54.5,356.9 72.9,354.7 90.0,352.2 C107.1,349.7 125.0,346.4 150.0,342.9 C175.0,339.3 216.7,334.4 240.0,330.9 C263.3,327.4 275.1,324.6 290.0,322.1 C304.9,319.6 316.4,317.8 329.6,315.7 C342.8,313.6 355.8,311.3 369.2,309.8 C382.6,308.3 398.3,307.7 410.0,306.8 C421.7,305.9 431.5,305.0 439.4,304.5 C447.3,304.0 449.2,304.0 457.6,303.9 C466.0,303.8 476.5,303.7 490.0,303.6 C503.5,303.6 530.4,303.6 538.5,303.6" fill="none" stroke="#e45c58" stroke-width="2.0" stroke-linecap="round" stroke-linejoin="round"/>
<path d="M47.0,209.3 C52.4,209.3 70.9,209.2 79.6,209.3 C88.3,209.4 92.8,209.8 99.4,209.8 C106.0,209.8 113.3,209.5 119.2,209.2 C125.1,208.9 130.4,208.3 135.0,208.0 C139.6,207.7 142.7,207.2 146.9,207.4 C151.1,207.6 155.6,208.2 160.0,208.9 C164.4,209.6 169.0,210.5 173.1,211.6 C177.2,212.7 180.8,214.0 184.6,215.3 C188.4,216.6 192.3,217.8 196.2,219.2 C200.0,220.6 203.8,222.5 207.7,223.9 C211.5,225.3 215.6,226.6 219.3,227.8 C223.0,229.0 226.2,230.5 230.0,231.2 C233.8,231.9 237.5,231.8 242.4,232.0 C247.3,232.2 253.9,232.9 259.7,232.3 C265.5,231.7 271.9,229.5 277.0,228.5 C282.1,227.5 286.2,227.2 290.0,226.3 C293.8,225.4 296.6,224.4 299.9,223.3 C303.2,222.2 306.5,221.1 309.8,219.9 C313.1,218.8 316.4,217.4 319.7,216.4 C323.0,215.4 326.3,214.5 329.6,213.9 C332.9,213.3 336.1,213.0 339.5,212.9 C342.9,212.8 346.6,213.0 350.0,213.6 C353.4,214.2 356.6,215.5 359.9,216.4 C363.2,217.3 366.5,217.9 369.8,218.9 C373.1,219.9 376.3,221.1 379.7,222.3 C383.1,223.5 386.9,224.8 390.0,225.9 C393.1,227.0 395.6,227.8 398.3,229.0 C401.1,230.2 403.8,231.0 406.5,233.2 C409.2,235.4 412.1,239.3 414.8,242.2 C417.6,245.1 420.5,248.1 423.0,250.5 C425.5,252.9 426.8,254.4 429.6,256.7 C432.4,259.0 435.3,259.9 440.0,264.5 C444.7,269.1 452.6,278.6 457.6,284.0 C462.6,289.4 465.9,292.3 470.0,296.8 C474.1,301.3 478.7,306.7 482.4,311.0 C486.1,315.3 489.2,320.1 492.3,322.8 C495.4,325.5 497.4,324.5 500.9,327.1 C504.4,329.7 509.8,335.4 513.3,338.3 C516.8,341.2 519.3,343.2 522.0,344.5 C524.7,345.8 526.6,346.3 529.4,346.3 C532.1,346.3 537.0,344.8 538.5,344.5" fill="none" stroke="#e3e3e3" stroke-width="2.0" stroke-linecap="round" stroke-linejoin="round"/>
<path d="M47.4,332.3 C49.5,331.4 54.6,329.2 60.0,327.0 C65.4,324.8 70.8,322.3 80.0,318.8 C89.2,315.3 103.3,310.1 115.0,305.8 C126.7,301.6 140.8,296.5 150.0,293.3 C159.2,290.1 160.0,289.8 170.0,286.4 C180.0,283.0 200.0,276.1 210.0,273.0 C220.0,269.9 220.0,270.5 230.0,267.7 C240.0,264.9 260.0,259.1 270.0,256.2 C280.0,253.3 283.3,252.3 290.0,250.6 C296.7,248.9 303.3,247.5 310.0,246.2 C316.7,244.9 323.3,244.2 330.0,242.9 C336.7,241.6 343.3,239.7 350.0,238.5 C356.7,237.3 363.3,236.3 370.0,235.6 C376.7,234.9 383.9,234.7 390.0,234.2 C396.1,233.7 401.0,232.6 406.5,232.4 C412.0,232.2 417.4,232.7 423.0,233.0 C428.6,233.3 433.6,233.8 440.0,234.3 C446.4,234.8 455.2,235.4 461.5,236.1 C467.8,236.8 473.2,237.6 478.0,238.2 C482.8,238.8 486.2,239.3 490.0,239.8 C493.8,240.3 497.3,240.8 500.9,241.4 C504.5,242.0 508.2,242.6 511.8,243.4 C515.4,244.2 518.2,245.3 522.7,246.3 C527.2,247.3 535.9,248.8 538.5,249.3" fill="none" stroke="#0c5560" stroke-width="2.0" stroke-linecap="round" stroke-linejoin="round"/>
<line x1="49.9" y1="469.6" x2="539.3" y2="469.6" stroke="#ef8b86" stroke-width="1.2" stroke-dasharray="3,3"/>
<line x1="49.9" y1="504.1" x2="539.3" y2="504.1" stroke="#2fd0c0" stroke-width="1.2" stroke-dasharray="3,3"/>
<polyline points="47.0,476.7 52.7,484.7 58.4,490.4 64.1,492.1 69.9,482.2 75.6,471.5 81.3,494.2 87.0,492.6 92.7,485.5 98.4,485.0 104.2,490.4 109.9,485.5 115.6,482.2 121.3,479.7 127.0,472.3 132.7,467.3 138.5,486.0 144.2,495.4 149.9,496.5 155.6,496.7 161.3,498.3 167.0,494.2 172.8,497.9 178.5,494.2 184.2,505.3 189.9,506.4 195.6,506.1 201.3,502.8 207.0,494.2 212.8,501.5 218.5,492.1 224.2,486.0 229.9,478.4 235.6,475.1 241.3,466.5 247.1,464.5 252.8,463.2 258.5,479.7 264.2,487.1 269.9,492.6 275.6,483.8 281.4,476.1 287.1,477.2 292.8,486.3 298.5,478.9 304.2,487.1 309.9,495.4 315.7,494.2 321.4,490.1 327.1,490.3 332.8,486.6 338.5,491.3 344.2,496.2 349.9,497.9 355.7,490.4 361.4,488.8 367.1,477.2 372.8,489.6 378.5,497.9 384.2,507.8 390.0,492.9 395.7,489.6 401.4,488.0 407.1,502.0 412.8,506.1 418.5,510.7 424.3,511.0 430.0,500.3 435.7,505.3 441.4,506.4 447.1,505.3 452.8,505.8 458.6,507.4 464.3,496.5 470.0,499.2 475.7,497.5 481.4,500.8 487.1,500.3 492.8,503.6 498.6,492.6 504.3,497.9 510.0,494.9 515.7,500.3 521.4,489.3 527.1,478.4 532.9,476.7 538.6,472.3" fill="none" stroke="#2a3f58" stroke-width="1.25" stroke-linejoin="round"/>
<text x="475.8" y="461.9" class="sm" textLength="74.4" lengthAdjust="spacingAndGlyphs">Overbought &gt;70</text>
<text x="490.6" y="518.5" class="sm" textLength="59.4" lengthAdjust="spacingAndGlyphs">Oversold &lt;30</text>
<path d="M563.3,166.5 H595.7 V193 H563.3 V184.4 L553.9,179.6 L563.3,174.8 Z" fill="#fdf3ea" stroke="#1c2c3e" stroke-width="1.3"/>
<text x="568.9" y="183.7" class="lb" textLength="21.2" lengthAdjust="spacingAndGlyphs">1.45</text>
<path d="M563.5,226.4 H595.7 V252.7 H563.5 V244.7 L553.4,243 L563.5,235 Z" fill="#ffffff" stroke="#1e6b78" stroke-width="1.3"/>
<text x="568.9" y="243.6" class="lb" style="fill:#1e6b78" textLength="20.9" lengthAdjust="spacingAndGlyphs">1.42</text>
<path d="M563.5,252.7 H595.7 V279 H563.5 V270.4 L553.4,257 L563.5,261.3 Z" fill="#fdf3ea" stroke="#1c2c3e" stroke-width="1.3"/>
<text x="568.9" y="270.4" class="lb" textLength="20.9" lengthAdjust="spacingAndGlyphs">1.42</text>
<text x="568.9" y="307.7" class="lb" style="fill:#e8644f" textLength="21.2" lengthAdjust="spacingAndGlyphs">1.40</text>
<text x="7.3" y="28.8" class="ti" textLength="393.7" lengthAdjust="spacingAndGlyphs">USD/CAD bounces on US-China tariff deal</text>
<text x="7.2" y="52" class="st" textLength="530" lengthAdjust="spacingAndGlyphs">USD/CAD daily developments, Moving Averages and Relative Strength Index</text>
<line x1="9.0" y1="76.0" x2="24.0" y2="76.0" stroke="#0c5560" stroke-width="2.0"/>
<text x="25.5" y="80.9" class="lg" textLength="462.0" lengthAdjust="spacingAndGlyphs">USDCAD Spot Exchange Rate - Price of 1 USD in CAD, Last Trade/Last Price</text>
<line x1="494.0" y1="76.0" x2="508.0" y2="76.0" stroke="#e3e3e3" stroke-width="2.0"/>
<text x="510.4" y="80.9" class="lg" textLength="75.6" lengthAdjust="spacingAndGlyphs">20-day SMA</text>
<line x1="9.0" y1="98.3" x2="24.0" y2="98.3" stroke="#e45c58" stroke-width="2.0"/>
<text x="25.5" y="103.6" class="lg" textLength="84.4" lengthAdjust="spacingAndGlyphs">200-day SMA</text>
<line x1="115.2" y1="98.3" x2="129.7" y2="98.3" stroke="#8a7df0" stroke-width="2.0"/>
<text x="132.9" y="103.6" class="lg" textLength="75.7" lengthAdjust="spacingAndGlyphs">60-day SMA</text>
<line x1="214.0" y1="98.3" x2="228.4" y2="98.3" stroke="#1ec9b1" stroke-width="2.0"/>
<text x="230.5" y="103.6" class="lg" textLength="76.0" lengthAdjust="spacingAndGlyphs">40-day SMA</text>
<line x1="316.3" y1="93.6" x2="316.3" y2="103.2" stroke="#0b1a30" stroke-width="1.6"/>
<rect x="313.2" y="95.6" width="6.3" height="5.4" fill="#1fc8b0" stroke="#0b1a30" stroke-width="1.7"/>
<text x="323.8" y="103.6" class="lg" textLength="58.9" lengthAdjust="spacingAndGlyphs">USD/CAD</text>
<line x1="389.0" y1="98.3" x2="404.0" y2="98.3" stroke="#243a55" stroke-width="1.3"/>
<text x="406.7" y="103.6" class="lg" textLength="74.0" lengthAdjust="spacingAndGlyphs">RSI (14-day)</text>
<text x="10.2" y="589.5" class="so" textLength="151.8" lengthAdjust="spacingAndGlyphs">Source: Convera, Macrobond</text>
<rect x="605" y="0" width="1" height="606" fill="#000"/>
<rect x="0" y="604" width="606" height="2" fill="#000"/>
</svg>
</body></html>
